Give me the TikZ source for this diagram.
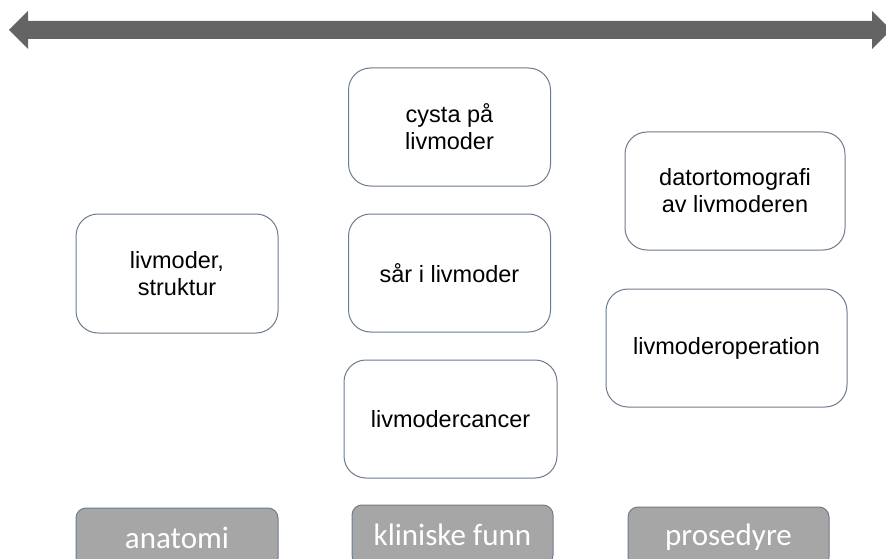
\documentclass[tikz,border=0pt]{standalone}
\usepackage{fontspec}
\setmainfont{Liberation Sans}
\newfontfamily\labelfont{Carlito}
\usetikzlibrary{positioning}
\definecolor{AxisGray}{HTML}{646464}
\definecolor{EdgeSlate}{HTML}{6F7B8C}
\definecolor{LabelGray}{HTML}{A6A6A6}

\begin{document}
\begin{tikzpicture}[x=1pt, y=-1pt,
    termbox/.style={draw=EdgeSlate, line width=1pt, rounded corners=22pt, fill=white,
        align=center, font=\fontsize{23.5}{27}\selectfont, inner sep=0pt},
    groupbox/.style={draw=EdgeSlate, line width=1pt, rounded corners=10pt, fill=LabelGray,
        text=white, font=\labelfont\fontsize{31}{34}\selectfont, inner sep=0pt,
        minimum height=60pt}]
                \useasboundingbox (0,0) rectangle (886,559);
                \clip (0,0) rectangle (886,559);

                % Axis arrow
                \fill[AxisGray] (9,30) -- (28,11) -- (28,21) -- (872,21) -- (872,11)
                    -- (891,30) -- (872,49) -- (872,39) -- (28,39) -- (28,49) -- cycle;

                % Terms
                \node[termbox, minimum width=202pt, minimum height=119pt] (struktur) at (177,273.5) {livmoder,\\struktur};
                \node[termbox, minimum width=202pt, minimum height=118pt] (cysta) at (449.5,127) {cysta på\\livmoder};
                \node[termbox, minimum width=202pt, minimum height=118pt] (saar) at (449.5,273) {sår i livmoder};
                \node[termbox, minimum width=213pt, minimum height=118pt] (cancer) at (450.5,419) {livmodercancer};
                \node[termbox, minimum width=220pt, minimum height=118pt] (tomografi) at (735,191) {datortomografi\\av livmoderen};
                \node[termbox, minimum width=241pt, minimum height=118pt] (operasjon) at (726.5,348) {livmoderoperation};

                % Groups
                \node[groupbox, minimum width=202pt] (anatomi) at (177,538) {anatomi};
                \node[groupbox, minimum width=201pt] (funn) at (452.5,535) {kliniske funn};
                \node[groupbox, minimum width=201pt] (prosedyre) at (728.5,537) {prosedyre};
            \end{tikzpicture}
\end{document}
